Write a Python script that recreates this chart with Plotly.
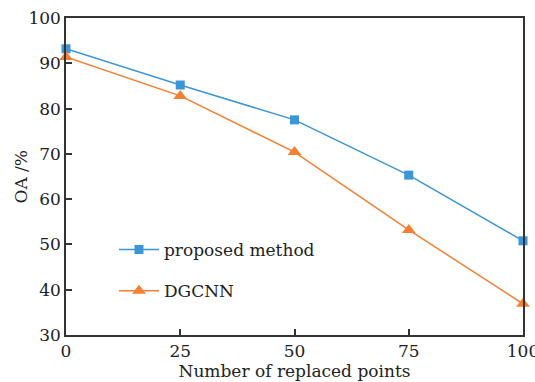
import plotly.graph_objects as go

replaced_points = [0, 25, 50, 75, 100]
proposed_oa = [93.2, 85.2, 77.5, 65.3, 50.8]
dgcnn_oa = [91.4, 82.8, 70.4, 53.2, 36.9]
y_ticks = [30, 40, 50, 60, 70, 80, 90, 100]
x_ticks = [0, 25, 50, 75, 100]

BLUE = "#3b95d6"
ORANGE = "#f57f33"
FONT = "DejaVu Serif"

fig = go.Figure()
fig.add_trace(go.Scatter(
    x=replaced_points, y=proposed_oa, name="proposed method", legendgroup="a",
    mode="lines+markers", line=dict(color=BLUE, width=1.5),
    marker=dict(symbol="square", size=9, color=BLUE), cliponaxis=False))
fig.add_trace(go.Scatter(
    x=replaced_points, y=dgcnn_oa, name="DGCNN", legendgroup="b",
    mode="lines+markers", line=dict(color=ORANGE, width=1.5),
    marker=dict(symbol="triangle-up", size=12, color=ORANGE), cliponaxis=False))

axis_common = dict(
    showgrid=False, zeroline=False, showline=True, linecolor="#333333", linewidth=1.5,
    mirror=True, ticks="inside", ticklen=6, tickwidth=1.5, tickcolor="#333333",
    tickfont=dict(family=FONT, size=17, color="#222222"),
    automargin=False, ticklabeloverflow="allow",
)

fig.update_layout(
    width=535, height=382,
    margin=dict(l=66, r=12, t=18, b=47),
    paper_bgcolor="white", plot_bgcolor="white",
    font=dict(family=FONT, color="#222222"),
    xaxis=dict(range=[0, 100], tickvals=x_ticks,
               title=dict(text="Number of replaced points", font=dict(family=FONT, size=17), standoff=0),
               **axis_common),
    yaxis=dict(range=[30, 100], tickvals=y_ticks, **axis_common),
    legend=dict(x=0.105, y=0.325, xanchor="left", yanchor="top",
                bgcolor="rgba(0,0,0,0)", font=dict(family=FONT, size=17),
                tracegroupgap=16, itemwidth=40),
    showlegend=True,
    annotations=[dict(text="OA /%", xref="paper", yref="paper", x=0, y=0.5,
                      xanchor="center", yanchor="middle", xshift=-46, textangle=-90,
                      showarrow=False, font=dict(family=FONT, size=17, color="#222222"))],
)

fig.write_html("out.html", config={"displayModeBar": False},
               post_script="document.body.style.margin='0';document.body.style.padding='0';")
